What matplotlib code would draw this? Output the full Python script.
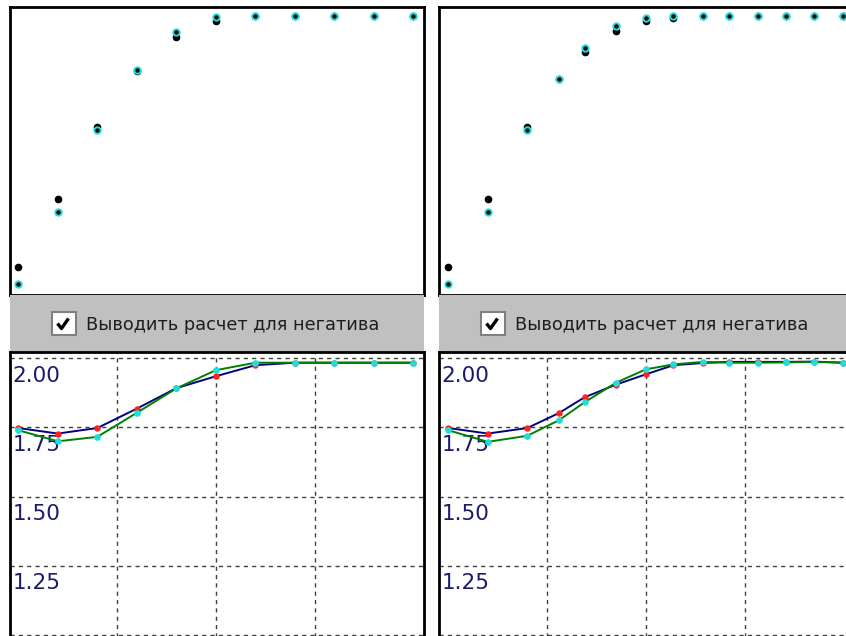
import matplotlib.pyplot as plt
from matplotlib.patches import Rectangle

W, H = 846, 636

# log exposure of each step
steps_left = [0.0, 0.2, 0.4, 0.6, 0.8, 1.0, 1.2, 1.4, 1.6, 1.8, 2.0]
steps_right = [0.0, 0.2, 0.4, 0.56, 0.69, 0.85, 1.0, 1.14, 1.29, 1.42, 1.57, 1.71, 1.85, 2.0]

# upper charts, relative units: measured (black) and calculated (cyan)
measured_left = [0.098, 0.332, 0.583, 0.779, 0.895, 0.950, 0.968, 0.968, 0.968, 0.968, 0.968]
calc_left = [0.038, 0.288, 0.573, 0.782, 0.913, 0.964, 0.968, 0.968, 0.968, 0.968, 0.968]
measured_right = [0.098, 0.332, 0.583, 0.750, 0.845, 0.916, 0.951, 0.963,
                  0.968, 0.968, 0.968, 0.968, 0.968, 0.968]
calc_right = [0.038, 0.288, 0.573, 0.750, 0.859, 0.934, 0.963, 0.968,
              0.968, 0.968, 0.968, 0.968, 0.968, 0.968]

# lower charts: density of the negative
neg_red_left = [1.748, 1.728, 1.748, 1.818, 1.892, 1.935, 1.975, 1.984, 1.984, 1.984, 1.984]
neg_cyan_left = [1.740, 1.700, 1.716, 1.803, 1.891, 1.957, 1.984, 1.984, 1.984, 1.984, 1.984]
neg_red_right = [1.748, 1.728, 1.748, 1.802, 1.859, 1.905, 1.942, 1.975,
                 1.983, 1.987, 1.987, 1.987, 1.988, 1.984]
neg_cyan_right = [1.740, 1.698, 1.720, 1.776, 1.841, 1.912, 1.960, 1.978,
                  1.987, 1.984, 1.984, 1.985, 1.987, 1.984]

density_ticks = [1.00, 1.25, 1.50, 1.75, 2.00]
exposure_grid = [0.5, 1.0, 1.5]
checkbox_label = "Выводить расчет для негатива"

CYAN = "#22dcdc"
GRAY = "#c0c0c0"


def px_axes(fig, x0, y0, x1, y1):
    # axes from pixel box (y measured from the top)
    return fig.add_axes([x0 / W, 1 - y1 / H, (x1 - x0) / W, (y1 - y0) / H])


def draw_panel(fig, x0, width, xlim, xs, measured, calc, red, cyan):
    # upper scatter chart
    ax = px_axes(fig, x0, 7, x0 + width, 295)
    ax.plot(xs, measured, "o", color="black", ms=4.5, zorder=3)
    ax.plot(xs, calc, "o", mfc="black", mec=CYAN, mew=1.4, ms=4.6, zorder=4)
    ax.set_xlim(*xlim)
    ax.set_ylim(0, 1)
    ax.set_xticks([])
    ax.set_yticks([])
    for s in ax.spines.values():
        s.set_linewidth(2)
        s.set_color("black")

    # gray strip with the checkbox
    band = px_axes(fig, x0, 295, x0 + width, 352)
    band.set_facecolor(GRAY)
    band.set_xlim(x0, x0 + width)
    band.set_ylim(352, 295)
    band.axis("off")
    band.add_patch(Rectangle((0, 0), 1, 1, transform=band.transAxes,
                             facecolor=GRAY, edgecolor="none", zorder=0))
    bx = x0 + 41.5
    band.add_patch(Rectangle((bx, 312.5), 24, 23, facecolor="white",
                             edgecolor="#808080", lw=1.5, zorder=2))
    band.plot([bx + 6, bx + 10, bx + 17], [323.5, 328.5, 318.5],
              color="black", lw=2.4, solid_capstyle="butt", zorder=3)
    band.text(x0 + 75.5, 325, checkbox_label, fontsize=12.8, color="#1e1e1e",
              va="center", ha="left")

    # lower density chart
    lo = px_axes(fig, x0, 352, x0 + width, 640)
    lo.set_xlim(*xlim)
    lo.set_ylim(0.982, 2.0227)
    for t in density_ticks:
        lo.axhline(t, color="#404040", lw=1, ls=(0, (3, 3)), zorder=1)
        if t > 1.1:
            lo.text(0.006, t - 0.0845, f"{t:.2f}", transform=lo.get_yaxis_transform(),
                    fontsize=15.5, color="#1a1a6e", va="baseline", ha="left")
    for g in exposure_grid:
        lo.axvline(g, color="#404040", lw=1, ls=(0, (3, 3)), zorder=1)
    lo.plot(xs, red, color="#000080", lw=1.4, marker="o", ms=3.6,
            mfc="#ff2020", mec="#ff2020", zorder=3)
    lo.plot(xs, cyan, color="#008000", lw=1.4, marker="o", ms=3.8,
            mfc=CYAN, mec=CYAN, zorder=4)
    lo.set_xticks([])
    lo.set_yticks([])
    for s in lo.spines.values():
        s.set_linewidth(2)
        s.set_color("black")


fig = plt.figure(figsize=(W / 100, H / 100), dpi=100, facecolor="white")
draw_panel(fig, 10, 414, (-0.042, 2.054), steps_left,
           measured_left, calc_left, neg_red_left, neg_cyan_left)
draw_panel(fig, 439, 415, (-0.047, 2.054), steps_right,
           measured_right, calc_right, neg_red_right, neg_cyan_right)
fig.savefig("out.png", dpi=100)
